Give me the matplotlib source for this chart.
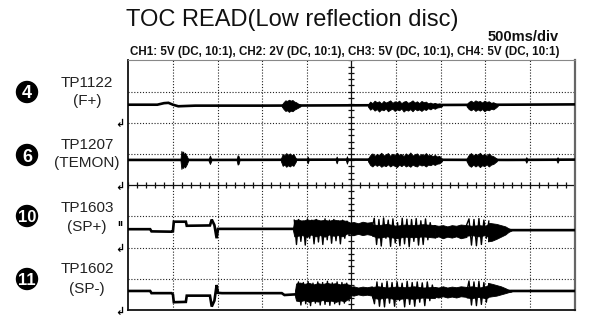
import numpy as np
import matplotlib
matplotlib.use("Agg")
import matplotlib.pyplot as plt
from matplotlib.patches import Ellipse

W, H = 589, 329

# Screen: 10 x 8 divisions, values below are in divisions
N_XDIV, N_YDIV = 10, 8

# Channel ground reference levels (div)
ground_levels = [6.0, 4.0, 2.0, 0.0]
trigger_level = 2.76

# ---- CH1: TP1122 (F+) ----
ch1_x = [0.0, 0.65, 0.80, 0.90, 1.00, 1.12, 1.5, 3.0, 5.0, 8.5, 10.0]
ch1_y = [6.58, 6.58, 6.63, 6.64, 6.58, 6.53, 6.55, 6.55, 6.56, 6.58, 6.59]
ch1_burst_x = [
    [3.44, 3.48, 3.52, 3.56, 3.60, 3.64, 3.68, 3.72, 3.76, 3.80, 3.86],
    [5.37, 5.42, 5.47, 5.52, 5.57, 5.62, 5.67, 5.72, 5.77, 5.82, 5.87, 5.92,
     5.97, 6.02, 6.07, 6.12, 6.17, 6.22, 6.27, 6.32, 6.37, 6.42, 6.47, 6.52,
     6.57, 6.62, 6.67, 6.72, 6.77, 6.82, 6.87, 6.92, 6.97, 7.03],
    [7.58, 7.63, 7.68, 7.73, 7.78, 7.83, 7.88, 7.93, 7.98, 8.03, 8.08, 8.13,
     8.18, 8.23, 8.28],
]
ch1_burst_hi = [
    [6.58, 6.66, 6.72, 6.70, 6.74, 6.71, 6.73, 6.68, 6.66, 6.62, 6.58],
    [6.58, 6.68, 6.63, 6.71, 6.66, 6.69, 6.62, 6.70, 6.65, 6.68, 6.72, 6.64,
     6.69, 6.66, 6.71, 6.63, 6.68, 6.70, 6.64, 6.67, 6.72, 6.65, 6.69, 6.63,
     6.70, 6.66, 6.68, 6.62, 6.65, 6.61, 6.64, 6.60, 6.62, 6.58],
    [6.59, 6.67, 6.71, 6.66, 6.72, 6.68, 6.70, 6.65, 6.71, 6.67, 6.69, 6.64,
     6.66, 6.62, 6.59],
]
ch1_burst_lo = [
    [6.52, 6.44, 6.38, 6.40, 6.35, 6.39, 6.37, 6.42, 6.45, 6.48, 6.53],
    [6.52, 6.42, 6.47, 6.39, 6.44, 6.36, 6.43, 6.40, 6.46, 6.37, 6.42, 6.45,
     6.38, 6.43, 6.40, 6.46, 6.36, 6.42, 6.39, 6.44, 6.37, 6.45, 6.40, 6.43,
     6.38, 6.44, 6.41, 6.47, 6.43, 6.48, 6.45, 6.49, 6.50, 6.53],
    [6.53, 6.44, 6.40, 6.45, 6.38, 6.43, 6.39, 6.44, 6.37, 6.42, 6.40, 6.45,
     6.43, 6.48, 6.54],
]

# ---- CH2: TP1207 (TEMON) ----
ch2_x = [0.0, 2.0, 5.0, 8.5, 10.0]
ch2_y = [4.81, 4.81, 4.82, 4.81, 4.82]
ch2_burst_x = [
    [1.17, 1.19, 1.21, 1.23, 1.25, 1.27, 1.29, 1.31, 1.34],
    [1.80, 1.83, 1.86],
    [2.43, 2.45, 2.47, 2.49],
    [3.42, 3.46, 3.50, 3.54, 3.58, 3.62, 3.66, 3.70, 3.76],
    [4.00, 4.02, 4.04],
    [4.65, 4.67, 4.69],
    [4.88, 4.90, 4.92],
    [5.37, 5.42, 5.47, 5.52, 5.57, 5.62, 5.67, 5.72, 5.77, 5.82, 5.87, 5.92,
     5.97, 6.02, 6.07, 6.12, 6.17, 6.22, 6.27, 6.32, 6.37, 6.42, 6.47, 6.52,
     6.57, 6.62, 6.67, 6.72, 6.77, 6.82, 6.87, 6.92, 6.97, 7.03],
    [7.58, 7.63, 7.68, 7.73, 7.78, 7.83, 7.88, 7.93, 7.98, 8.03, 8.08, 8.13,
     8.18, 8.26],
    [8.90, 8.92, 8.94],
    [9.60, 9.62, 9.64],
]
ch2_burst_hi = [
    [4.84, 5.10, 5.02, 5.08, 4.96, 5.04, 4.98, 4.94, 4.84],
    [4.84, 4.95, 4.84],
    [4.84, 4.96, 4.94, 4.84],
    [4.85, 5.00, 4.95, 5.03, 4.97, 5.02, 4.96, 5.00, 4.85],
    [4.84, 4.92, 4.84],
    [4.84, 4.92, 4.84],
    [4.84, 4.93, 4.84],
    [4.85, 4.96, 5.02, 4.94, 5.00, 4.97, 5.04, 4.95, 4.99, 5.03, 4.94, 5.01,
     4.96, 5.04, 4.97, 5.00, 4.93, 5.02, 4.96, 5.05, 4.95, 4.99, 5.02, 4.94,
     5.00, 4.96, 5.03, 4.95, 4.98, 4.93, 4.97, 4.92, 4.94, 4.85],
    [4.85, 4.97, 5.03, 4.95, 5.01, 4.97, 5.04, 4.96, 5.00, 4.94, 5.02, 4.95,
     4.93, 4.85],
    [4.84, 4.90, 4.84],
    [4.84, 4.90, 4.84],
]
ch2_burst_lo = [
    [4.78, 4.52, 4.60, 4.55, 4.64, 4.57, 4.62, 4.67, 4.78],
    [4.78, 4.68, 4.78],
    [4.78, 4.66, 4.68, 4.78],
    [4.77, 4.62, 4.66, 4.59, 4.64, 4.60, 4.65, 4.62, 4.77],
    [4.78, 4.70, 4.78],
    [4.78, 4.70, 4.78],
    [4.78, 4.69, 4.78],
    [4.77, 4.65, 4.60, 4.67, 4.62, 4.66, 4.59, 4.64, 4.61, 4.67, 4.60, 4.65,
     4.62, 4.58, 4.66, 4.61, 4.67, 4.60, 4.64, 4.59, 4.66, 4.62, 4.60, 4.67,
     4.63, 4.65, 4.60, 4.66, 4.64, 4.68, 4.65, 4.69, 4.70, 4.77],
    [4.77, 4.64, 4.59, 4.66, 4.60, 4.65, 4.58, 4.64, 4.61, 4.67, 4.60, 4.66,
     4.68, 4.77],
    [4.78, 4.72, 4.78],
    [4.78, 4.72, 4.78],
]

# ---- CH3: TP1603 (SP+) ----
ch3_x = [0.0, 0.49, 0.52, 0.97, 1.0, 1.02, 1.29, 1.31, 1.83, 1.87, 1.93,
         1.98, 2.01, 2.10, 3.69, 8.59, 10.0]
ch3_y = [2.59, 2.59, 2.52, 2.51, 2.52, 2.83, 2.83, 2.70, 2.71, 2.90, 2.72,
         2.30, 2.60, 2.60, 2.60, 2.56, 2.56]
ch3_band_x = [
    [3.69, 3.72, 3.80, 3.90, 4.00, 4.10, 4.20, 4.30, 4.40, 4.50, 4.60, 4.70,
     4.80, 4.90, 4.97],
    [4.97, 5.05, 5.15, 5.25, 5.35, 5.46],
    [5.46, 5.60, 5.80, 6.00, 6.20, 6.40, 6.60, 6.87],
    [6.87, 6.95, 7.05, 7.15, 7.25, 7.35, 7.45, 7.58],
    [7.58, 7.70, 7.85, 8.00, 8.06],
    [8.06, 8.15, 8.25, 8.35, 8.45, 8.52, 8.59],
]
ch3_band_hi = [
    [2.62, 2.88, 2.90, 2.86, 2.90, 2.88, 2.91, 2.87, 2.89, 2.86, 2.90, 2.87,
     2.88, 2.85, 2.80],
    [2.80, 2.82, 2.78, 2.83, 2.80, 2.82],
    [2.75, 2.72, 2.76, 2.70, 2.74, 2.72, 2.75, 2.72],
    [2.72, 2.70, 2.72, 2.68, 2.72, 2.70, 2.74, 2.72],
    [2.72, 2.70, 2.72, 2.70, 2.75],
    [2.80, 2.78, 2.76, 2.72, 2.68, 2.62, 2.58],
]
ch3_band_lo = [
    [2.56, 2.36, 2.38, 2.40, 2.34, 2.42, 2.36, 2.40, 2.35, 2.42, 2.38, 2.40,
     2.36, 2.45, 2.45],
    [2.45, 2.40, 2.44, 2.40, 2.43, 2.40],
    [2.38, 2.32, 2.36, 2.30, 2.35, 2.33, 2.36, 2.32],
    [2.32, 2.36, 2.30, 2.35, 2.32, 2.36, 2.30, 2.34],
    [2.38, 2.40, 2.36, 2.40, 2.35],
    [2.20, 2.22, 2.28, 2.35, 2.42, 2.50, 2.55],
]
ch3_swing_span = [(3.72, 4.95), (5.46, 6.87), (7.58, 8.08)]
ch3_swing_y = [
    [2.88, 2.10, 2.90, 2.20, 2.86, 2.08, 2.92, 2.30, 2.88, 2.12, 2.90, 2.18,
     2.84, 2.10, 2.92, 2.25, 2.88, 2.14, 2.90, 2.22, 2.86, 2.12, 2.88, 2.30,
     2.85, 2.40],
    [2.60, 2.94, 2.10, 2.90, 2.05, 2.95, 2.30, 2.88, 2.04, 2.92, 2.15, 2.80,
     2.06, 2.94, 2.12, 2.91, 2.03, 2.90, 2.20, 2.93, 2.08, 2.86, 2.10, 2.92,
     2.25, 2.80, 2.40, 2.70],
    [2.72, 2.92, 2.08, 2.90, 2.06, 2.93, 2.10, 2.88, 2.30, 2.85],
]

# ---- CH4: TP1602 (SP-) ----
ch4_x = [0.0, 0.49, 0.52, 0.97, 1.0, 1.02, 1.29, 1.31, 1.83, 1.87, 1.93,
         1.98, 2.01, 2.10, 3.44, 3.50, 3.73, 8.59, 10.0]
ch4_y = [0.61, 0.61, 0.54, 0.54, 0.50, 0.25, 0.26, 0.46, 0.46, 0.11, 0.30,
         0.80, 0.55, 0.54, 0.54, 0.48, 0.50, 0.61, 0.61]
ch4_band_x = [
    [3.73, 3.76, 3.85, 3.95, 4.05, 4.15, 4.25, 4.35, 4.45, 4.55, 4.65, 4.75,
     4.85, 4.97],
    [4.97, 5.05, 5.15, 5.25, 5.35, 5.46],
    [5.46, 5.60, 5.80, 6.00, 6.20, 6.40, 6.60, 6.87],
    [6.87, 6.95, 7.05, 7.15, 7.25, 7.35, 7.45, 7.58],
    [7.58, 7.70, 7.85, 8.00, 8.06],
    [8.06, 8.15, 8.25, 8.35, 8.45, 8.52, 8.59],
]
ch4_band_hi = [
    [0.55, 0.85, 0.88, 0.84, 0.87, 0.82, 0.86, 0.83, 0.87, 0.84, 0.86, 0.82,
     0.85, 0.80],
    [0.74, 0.76, 0.72, 0.75, 0.73, 0.76],
    [0.74, 0.76, 0.72, 0.75, 0.73, 0.76, 0.72, 0.74],
    [0.74, 0.72, 0.76, 0.72, 0.75, 0.73, 0.76, 0.74],
    [0.74, 0.76, 0.72, 0.75, 0.80],
    [0.87, 0.84, 0.80, 0.76, 0.70, 0.65, 0.63],
]
ch4_band_lo = [
    [0.48, 0.30, 0.28, 0.32, 0.26, 0.30, 0.27, 0.32, 0.28, 0.30, 0.26, 0.31,
     0.28, 0.40],
    [0.48, 0.46, 0.50, 0.47, 0.49, 0.46],
    [0.40, 0.36, 0.40, 0.34, 0.38, 0.36, 0.40, 0.38],
    [0.42, 0.40, 0.44, 0.40, 0.43, 0.40, 0.44, 0.42],
    [0.40, 0.38, 0.42, 0.38, 0.40],
    [0.42, 0.44, 0.46, 0.50, 0.54, 0.57, 0.59],
]
ch4_swing_span = [(3.76, 4.95), (5.46, 6.87), (7.58, 8.08)]
ch4_swing_y = [
    [0.60, 0.90, 0.16, 0.88, 0.20, 0.91, 0.14, 0.86, 0.22, 0.90, 0.16, 0.88,
     0.18, 0.92, 0.15, 0.87, 0.20, 0.90, 0.17, 0.88, 0.22, 0.86, 0.30],
    [0.55, 0.20, 0.90, 0.12, 0.86, 0.10, 0.92, 0.22, 0.88, 0.12, 0.90, 0.30,
     0.86, 0.10, 0.92, 0.18, 0.88, 0.12, 0.90, 0.25, 0.87, 0.14, 0.90, 0.30,
     0.80, 0.45],
    [0.55, 0.93, 0.16, 0.90, 0.14, 0.92, 0.18, 0.88, 0.25, 0.80],
]

# Channel labels
ch_numbers = ["4", "6", "10", "11"]
ch_points = ["TP1122", "TP1207", "TP1603", "TP1602"]
ch_signals = ["(F+)", "(TEMON)", "(SP+)", "(SP-)"]

title = "TOC READ(Low reflection disc)"
timebase = "500ms/div"
settings = "CH1: 5V (DC, 10:1), CH2: 2V (DC, 10:1), CH3: 5V (DC, 10:1), CH4: 5V (DC, 10:1)"

plt.rcParams["font.family"] = ["Liberation Sans", "DejaVu Sans"]

fig = plt.figure(figsize=(W / 100, H / 100), dpi=100)
fig.patch.set_facecolor("white")


def fx(x):
    return x / W


def fy(y):
    return 1 - y / H


# Scope screen
left, right, top, bottom = 128.3, 574.5, 60.4, 310.0
ax = fig.add_axes([fx(left), fy(bottom), (right - left) / W, (bottom - top) / H])
ax.set_xlim(0, N_XDIV)
ax.set_ylim(0, N_YDIV)
ax.set_xticks([])
ax.set_yticks([])
for side in ["left", "bottom"]:
    ax.spines[side].set_linewidth(1.3)
    ax.spines[side].set_color("#111111")
ax.spines["top"].set_linewidth(0.8)
ax.spines["top"].set_color("#888888")
ax.spines["right"].set_linewidth(1.6)
ax.spines["right"].set_color("#666666")

dot = (0, (1.0, 1.6))
for i in range(1, N_XDIV):
    if i != N_XDIV // 2:
        ax.axvline(i, color="#222222", lw=0.8, ls=dot, zorder=1)
for j in range(1, N_YDIV):
    if j != N_YDIV // 2:
        ax.axhline(j, color="#222222", lw=0.8, ls=dot, zorder=1)
ax.axvline(N_XDIV / 2, color="#111111", lw=0.9, zorder=1)
ax.axhline(N_YDIV / 2, color="#111111", lw=0.9, zorder=1)
minor_x = np.arange(0, N_XDIV + 0.01, 0.2)
minor_y = np.arange(0, N_YDIV + 0.01, 0.2)
ax.vlines(minor_x, N_YDIV / 2 - 0.09, N_YDIV / 2 + 0.09, color="#111111", lw=0.9, zorder=1)
ax.hlines(minor_y, N_XDIV / 2 - 0.065, N_XDIV / 2 + 0.065, color="#111111", lw=0.9, zorder=1)

trace_kw = dict(color="black", lw=1.9, solid_joinstyle="miter", zorder=3)

# CH1 / CH2: baseline plus noise bursts
for xs, ys, bx, blo, bhi in [
    (ch1_x, ch1_y, ch1_burst_x, ch1_burst_lo, ch1_burst_hi),
    (ch2_x, ch2_y, ch2_burst_x, ch2_burst_lo, ch2_burst_hi),
]:
    ax.plot(xs, ys, **trace_kw)
    for x_, lo_, hi_ in zip(bx, blo, bhi):
        ax.fill_between(x_, lo_, hi_, color="black", lw=0.6, zorder=3)

# CH3 / CH4: baseline, dense bands and large swings
for xs, ys, bx, blo, bhi, spans, sy in [
    (ch3_x, ch3_y, ch3_band_x, ch3_band_lo, ch3_band_hi, ch3_swing_span, ch3_swing_y),
    (ch4_x, ch4_y, ch4_band_x, ch4_band_lo, ch4_band_hi, ch4_swing_span, ch4_swing_y),
]:
    ax.plot(xs, ys, **trace_kw)
    for x_, lo_, hi_ in zip(bx, blo, bhi):
        ax.fill_between(x_, lo_, hi_, color="black", lw=0.6, zorder=3)
    for (x0, x1), yv in zip(spans, sy):
        ax.plot(np.linspace(x0, x1, len(yv)), yv, color="black", lw=1.0, zorder=3)

# Ground reference and trigger markers on the left edge
for g in ground_levels:
    ax.text(-0.18, g - 0.05, "\u21b2", fontsize=8, ha="center", va="center",
            fontweight="bold", family=["DejaVu Sans"], clip_on=False)
ax.text(-0.17, trigger_level, "\u0131\u0131", fontsize=6, ha="center", va="center",
        fontweight="bold", family=["DejaVu Sans"], clip_on=False)

# Titles
fig.text(fx(126), fy(26), title, fontsize=17, ha="left", va="baseline", color="#111111")
fig.text(fx(559), fy(41), timebase, fontsize=10.5, ha="right", va="baseline",
         fontweight="bold", color="#111111")
fig.text(fx(130), fy(55.5), settings, fontsize=8.4, ha="left", va="baseline",
         fontweight="bold", color="#111111",
         family=["Liberation Sans Narrow", "Liberation Sans"])

# Channel labels
circle_y = [92, 155, 216, 279]
label_y1 = [86.7, 149.3, 211.7, 273.3]
label_y2 = [105.5, 167.0, 231.0, 292.5]
for num, tp, sig, cy, y1, y2 in zip(ch_numbers, ch_points, ch_signals,
                                    circle_y, label_y1, label_y2):
    fig.patches.append(Ellipse((fx(27), fy(cy)), 21 / W, 21 / H,
                               transform=fig.transFigure, color="black"))
    fig.text(fx(27), fy(cy), num, fontsize=13 if len(num) == 1 else 12,
             ha="center", va="center_baseline", color="white", fontweight="bold",
             family=["Liberation Sans Narrow", "Liberation Sans"])
    fig.text(fx(87), fy(y1), tp, fontsize=11, ha="center", va="baseline", color="#222222")
    fig.text(fx(87), fy(y2), sig, fontsize=11, ha="center", va="baseline", color="#222222")

fig.savefig("out.png", dpi=100, facecolor="white")
